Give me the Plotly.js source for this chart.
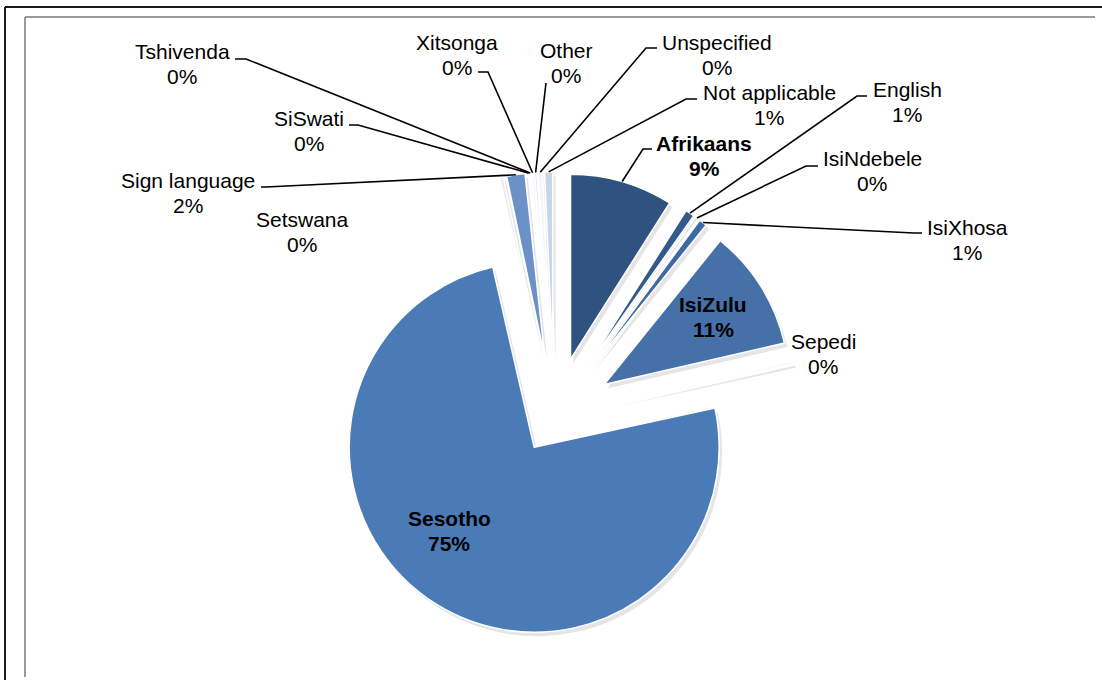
<!DOCTYPE html>
<html>
<head>
<meta charset="utf-8">
<script src="https://cdn.plot.ly/plotly-3.0.1.min.js"></script>
<style>
  html, body { margin: 0; padding: 0; background: #ffffff; }
  #chart { width: 1102px; height: 680px; }
</style>
</head>
<body>
<div id="chart"></div>
<script>
// ---------- data ----------
const languages = ["Afrikaans", "English", "IsiNdebele", "IsiXhosa", "IsiZulu", "Sepedi", "Sesotho",
  "Setswana", "Sign language", "SiSwati", "Tshivenda", "Xitsonga", "Other", "Unspecified", "Not applicable"];
const shares = [9.0, 0.8, 0.3, 0.7, 10.6, 0.2, 74.8, 0.3, 1.6, 0.1, 0.1, 0.2, 0.2, 0.4, 0.7];
const boldLabels = ["Afrikaans", "IsiZulu", "Sesotho"];

// ---------- styles ----------
const sliceColors = ["#30527f", "#34598b", "#dfe6f1", "#3e6aa4", "#4570a8", "#eef1f6", "#4a7bb7",
  "#e6ebf4", "#6b91c7", "#f1f3f8", "#e4eaf3", "#eff2f7", "#d9e1ee", "#f3f5f9", "#c7d4ea"];
const pulls = [0.32, 0.32, 0.32, 0.32, 0.32, 0.32, 0.2, 0.32, 0.32, 0.32, 0.32, 0.32, 0.32, 0.32, 0.32];

const W = 1102, H = 680;
const center = {x: 554, y: 416};
const R = 185;
const lineGap = 25;

// label placement (pixel centres of the two-line block) and leader-line start (label end + stub end)
const labelPos = {
  "Afrikaans": [704, 156], "English": [907, 102], "IsiNdebele": [872, 171], "IsiXhosa": [967, 240],
  "IsiZulu": [713, 317], "Sepedi": [823, 354], "Sesotho": [449, 531], "Setswana": [302, 232],
  "Sign language": [188, 193], "SiSwati": [309, 131], "Tshivenda": [182, 64], "Xitsonga": [457, 55],
  "Other": [566, 63], "Unspecified": [717, 55], "Not applicable": [769, 105]
};
const leaderStart = {
  "Afrikaans": [[652, 149], [643, 149]],
  "English": [[867, 96], [857, 96]],
  "IsiNdebele": [[818, 166], [806, 166]],
  "IsiXhosa": [[922, 233], [914, 233]],
  "Sign language": [[261, 187], [266, 187]],
  "SiSwati": [[349, 125], [358, 125]],
  "Tshivenda": [[235, 59], [246, 59]],
  "Xitsonga": [[478, 72], [488, 72]],
  "Other": [[546, 83], [546, 83]],
  "Unspecified": [[657, 48], [646, 48]],
  "Not applicable": [[697, 99], [686, 99]]
};

const px = (x) => x / W;
const py = (y) => 1 - y / H;

const total = shares.reduce((a, b) => a + b, 0);
const maxPull = Math.max(...pulls);
const half = R * (1 + maxPull);
const domain = {x: [px(center.x - half), px(center.x + half)], y: [py(center.y + half), py(center.y - half)]};
const shadowDx = 3, shadowDy = 4;
const shadowDomain = {x: [domain.x[0] + shadowDx / W, domain.x[1] + shadowDx / W],
                      y: [domain.y[0] - shadowDy / H, domain.y[1] - shadowDy / H]};

// shadow pie
const shadow = {
  type: "pie", labels: languages, values: shares, sort: false, direction: "clockwise", rotation: 0,
  pull: pulls, domain: shadowDomain, textinfo: "none", hoverinfo: "skip", showlegend: false,
  marker: {colors: languages.map(() => "rgba(0,0,0,0.10)"), line: {color: "rgba(0,0,0,0)", width: 0}}
};
// main pie
const pie = {
  type: "pie", labels: languages, values: shares, sort: false, direction: "clockwise", rotation: 0,
  pull: pulls, domain: domain, textinfo: "none", hoverinfo: "label+percent", showlegend: false,
  marker: {colors: sliceColors, line: {color: "#ffffff", width: 1.5}}
};

// geometry of slices to anchor leader lines
let cum = 0;
const tips = {};
shares.forEach((v, i) => {
  const a0 = cum / total * 2 * Math.PI;
  cum += v;
  const a1 = cum / total * 2 * Math.PI;
  const m = (a0 + a1) / 2;
  const cx = center.x + pulls[i] * R * Math.sin(m);
  const cy = center.y - pulls[i] * R * Math.cos(m);
  tips[languages[i]] = [cx + R * Math.sin(m), cy - R * Math.cos(m)];
});

const font = {family: "Liberation Sans, Arial, sans-serif", size: 21, color: "#000000"};
const annotations = [];
languages.forEach((lab, i) => {
  const pct = Math.round(shares[i] / total * 100) + "%";
  const isBold = boldLabels.includes(lab);
  const lines = [lab, pct];
  lines.forEach((t, k) => {
    annotations.push({
      x: px(labelPos[lab][0]), y: py(labelPos[lab][1] + (k - 0.5) * lineGap), xref: "paper", yref: "paper",
      text: isBold ? "<b>" + t + "</b>" : t, showarrow: false, xanchor: "center", yanchor: "middle",
      align: "center", font: font
    });
  });
});

const shapes = [];
Object.keys(leaderStart).forEach((lab) => {
  const [p0, p1] = leaderStart[lab];
  const t = tips[lab];
  shapes.push({
    type: "path", xref: "paper", yref: "paper",
    path: "M" + px(p0[0]) + "," + py(p0[1]) + " L" + px(p1[0]) + "," + py(p1[1]) + " L" + px(t[0]) + "," + py(t[1]),
    line: {color: "#000000", width: 1.6}
  });
});
// frame lines
shapes.push({type: "line", xref: "paper", yref: "paper", x0: px(5), y0: py(7), x1: 1, y1: py(7), line: {color: "#1a1a1a", width: 2}});
shapes.push({type: "line", xref: "paper", yref: "paper", x0: px(5), y0: py(7), x1: px(5), y1: 0, line: {color: "#1a1a1a", width: 2}});
shapes.push({type: "line", xref: "paper", yref: "paper", x0: px(25), y0: py(17), x1: px(1095), y1: py(17), line: {color: "#9a9a9a", width: 2}});
shapes.push({type: "line", xref: "paper", yref: "paper", x0: px(25), y0: py(17), x1: px(25), y1: py(677), line: {color: "#9a9a9a", width: 2}});

const layout = {
  width: W, height: H, margin: {l: 0, r: 0, t: 0, b: 0},
  paper_bgcolor: "#ffffff", plot_bgcolor: "#ffffff",
  showlegend: false, annotations: annotations, shapes: shapes
};

Plotly.newPlot("chart", [shadow, pie], layout, {displayModeBar: false, staticPlot: true});
</script>
</body>
</html>
